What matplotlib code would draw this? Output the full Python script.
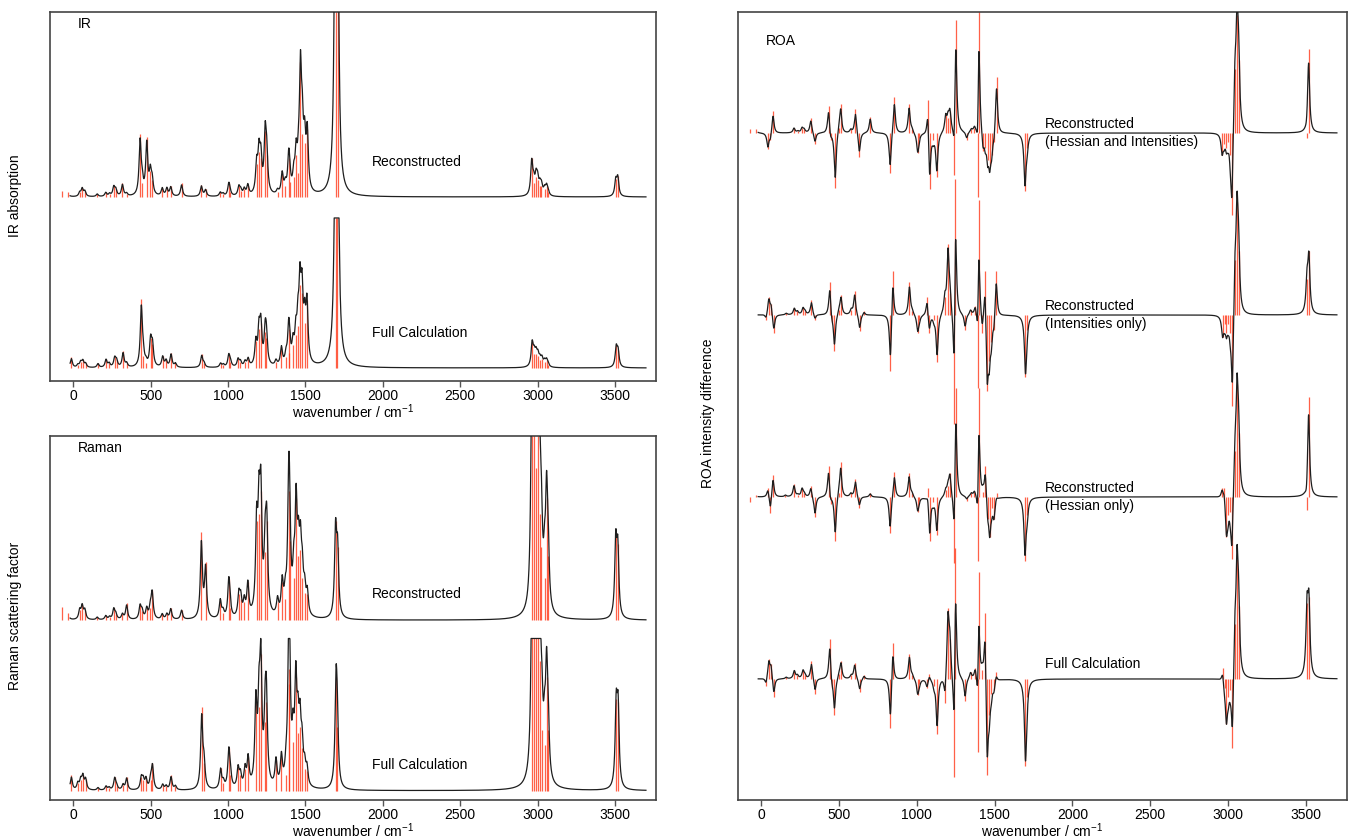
import matplotlib
matplotlib.use('Agg')
import matplotlib.pyplot as plt
import numpy as np

plt.rcParams['font.family'] = ['Liberation Sans', 'DejaVu Sans']
plt.rcParams['mathtext.fontset'] = 'custom'
plt.rcParams['mathtext.rm'] = 'Liberation Sans'
plt.rcParams['mathtext.it'] = 'Liberation Sans'

# --- normal-mode frequencies (cm^-1): full calculation vs reconstructed Hessian ---
freq_full = [-12, 30, 48, 62, 80, 160, 212, 232, 268, 280, 322, 345, 440, 452, 470, 500,
             512, 578, 600, 632, 660, 830, 845, 952, 970, 1005, 1015, 1065, 1080, 1110,
             1130, 1180, 1200, 1212, 1240, 1248, 1310, 1345, 1375, 1392, 1397, 1420, 1438,
             1452, 1465, 1478, 1495, 1510, 1698, 1706, 2965, 2978, 2990, 3002, 3015, 3028,
             3045, 3058, 3068, 3508, 3520]
freq_recon = [-75, -35, 42, 58, 75, 155, 210, 235, 262, 275, 318, 345, 432, 445, 475, 498,
              510, 575, 605, 630, 700, 828, 855, 950, 968, 1005, 1012, 1070, 1082, 1105,
              1128, 1185, 1200, 1212, 1240, 1250, 1320, 1350, 1370, 1392, 1398, 1425, 1440,
              1455, 1468, 1480, 1495, 1512, 1695, 1708, 2962, 2975, 2990, 3000, 3015, 3025,
              3045, 3058, 3068, 3505, 3518]

# --- IR intensities ---
ir_full = [0.07, 0.02, 0.04, 0.05, 0.03, 0.03, 0.06, 0.03, 0.07, 0.05, 0.11, 0.03, 0.46, 0.08,
           0.03, 0.2, 0.16, 0.08, 0.05, 0.1, 0.03, 0.09, 0.03, 0.03, 0.02, 0.09, 0.04, 0.06,
           0.04, 0.04, 0.06, 0.18, 0.26, 0.3, 0.24, 0.2, 0.04, 0.14, 0.07, 0.26, 0.1, 0.15,
           0.22, 0.28, 0.55, 0.5, 0.3, 0.45, 3.0, 2.2, 0.18, 0.09, 0.09, 0.08, 0.05, 0.06,
           0.04, 0.05, 0.02, 0.15, 0.12]
ir_recon = [0.04, 0.03, 0.03, 0.06, 0.04, 0.02, 0.03, 0.02, 0.07, 0.05, 0.09, 0.02, 0.42, 0.09,
            0.4, 0.17, 0.11, 0.06, 0.06, 0.07, 0.09, 0.08, 0.05, 0.03, 0.02, 0.09, 0.03, 0.07,
            0.04, 0.05, 0.08, 0.22, 0.3, 0.26, 0.44, 0.28, 0.03, 0.16, 0.07, 0.26, 0.1, 0.13,
            0.28, 0.16, 0.9, 0.42, 0.36, 0.45, 3.2, 2.2, 0.26, 0.09, 0.13, 0.11, 0.07, 0.07,
            0.05, 0.07, 0.03, 0.12, 0.14]

# --- Raman scattering factors ---
raman_full = [0.1, 0.05, 0.07, 0.1, 0.08, 0.02, 0.03, 0.02, 0.09, 0.03, 0.04, 0.09, 0.09, 0.07,
              0.08, 0.07, 0.18, 0.04, 0.03, 0.1, 0.03, 0.55, 0.18, 0.15, 0.05, 0.28, 0.1, 0.15,
              0.1, 0.14, 0.22, 0.62, 0.55, 0.9, 0.45, 0.58, 0.2, 0.22, 0.1, 0.7, 0.8, 0.32,
              0.75, 0.38, 0.42, 0.28, 0.14, 0.13, 0.75, 0.42, 1.5, 1.4, 1.2, 1.5, 0.85, 0.4,
              0.3, 0.75, 0.4, 0.6, 0.58]
raman_recon = [0.09, 0.05, 0.07, 0.1, 0.07, 0.02, 0.03, 0.02, 0.08, 0.04, 0.04, 0.11, 0.1, 0.06,
               0.08, 0.08, 0.2, 0.04, 0.04, 0.08, 0.07, 0.58, 0.38, 0.14, 0.05, 0.27, 0.08, 0.17,
               0.14, 0.12, 0.25, 0.65, 0.7, 0.85, 0.45, 0.65, 0.12, 0.25, 0.14, 0.85, 0.52, 0.28,
               0.8, 0.42, 0.46, 0.28, 0.18, 0.17, 0.65, 0.48, 1.3, 1.5, 1.0, 1.6, 0.7, 0.48,
               0.28, 0.8, 0.42, 0.56, 0.5]

# --- ROA intensity differences ---
roa_both = [0.02, 0.02, -0.09, -0.04, 0.12, 0.0, 0.03, 0.01, 0.03, 0.02, 0.08, -0.06, 0.15, -0.04,
            -0.3, 0.03, 0.16, 0.02, 0.13, -0.13, 0.09, -0.22, 0.2, 0.16, 0.02, -0.11, -0.03, 0.18,
            -0.31, -0.04, -0.24, 0.1, 0.08, 0.12, -0.23, 0.62, -0.04, 0.02, 0.03, -0.35, 0.75,
            -0.1, -0.08, -0.15, -0.18, -0.12, -0.05, 0.31, -0.32, -0.08, -0.12, -0.06, -0.08,
            -0.05, -0.12, -0.45, 0.35, 0.65, 0.4, -0.03, 0.46]
roa_intens = [0.0, -0.03, 0.1, 0.06, -0.1, 0.01, 0.04, 0.02, 0.04, 0.02, 0.08, -0.03, 0.18, -0.04,
              -0.2, 0.03, 0.11, 0.03, 0.13, -0.09, 0.02, -0.31, 0.24, 0.18, 0.02, -0.1, -0.03, 0.1,
              -0.1, -0.03, -0.26, 0.1, 0.39, 0.12, -0.6, 0.75, -0.08, 0.03, 0.05, -0.4, 0.63, -0.1,
              0.24, -0.42, -0.25, -0.15, -0.08, 0.24, -0.34, -0.08, -0.12, -0.05, -0.1, -0.05,
              -0.1, -0.5, 0.3, 0.62, 0.35, 0.2, 0.35]
roa_hessian = [-0.03, 0.01, 0.05, -0.09, 0.12, 0.01, 0.07, 0.01, 0.05, 0.02, 0.06, -0.11, 0.17,
               -0.04, -0.24, 0.02, 0.19, 0.02, 0.1, -0.06, 0.02, -0.2, 0.14, 0.13, 0.02, -0.08,
               -0.02, 0.05, -0.24, -0.03, -0.21, 0.04, 0.06, 0.13, -0.36, 0.6, -0.02, 0.02, 0.03,
               -0.35, 0.6, 0.03, 0.17, -0.12, -0.22, -0.06, -0.12, 0.02, -0.35, -0.1, 0.05, 0.05,
               -0.22, -0.1, -0.08, -0.34, 0.25, 0.62, 0.35, -0.07, 0.55]
roa_full = [0.0, -0.04, 0.11, 0.08, -0.1, 0.01, 0.05, 0.02, 0.05, 0.02, 0.1, -0.08, 0.22, -0.05,
            -0.2, 0.03, 0.1, 0.02, 0.09, -0.07, 0.02, -0.27, 0.2, 0.14, 0.02, -0.09, -0.03, -0.05,
            0.03, -0.04, -0.3, -0.13, 0.39, 0.22, -0.54, 0.72, -0.12, 0.04, 0.06, -0.4, 0.59,
            0.05, 0.36, -0.53, -0.2, -0.08, -0.06, 0.04, -0.48, -0.1, 0.06, -0.05, -0.25, -0.1,
            -0.06, -0.38, 0.3, 0.66, 0.4, 0.42, 0.45]

grid = np.arange(-20, 3700.5, 1.0)
STICK = '#ff3a1a'
LINE = '#1e1e1e'


def broaden(freq, inten, hwhm=8.0, scale=0.85):
    d = grid[:, None] - np.asarray(freq, float)[None, :]
    lor = hwhm ** 2 / (d ** 2 + hwhm ** 2)
    return scale * (np.asarray(inten, float)[None, :] * lor).sum(axis=1)


def draw_spectrum(ax, freq, inten, offset, clip=None):
    inten = np.asarray(inten, float)
    curve = broaden(freq, inten)
    if clip is not None:
        curve = np.minimum(curve, clip)
        inten = np.minimum(inten, clip)
    ax.vlines(freq, offset, offset + inten, color=STICK, lw=0.9, alpha=0.8, zorder=2)
    ax.plot(grid, offset + curve, color=LINE, lw=0.9, zorder=3)


def style_axes(ax, ylim):
    ax.set_xlim(-150, 3765)
    ax.set_ylim(*ylim)
    ax.set_yticks([])
    ax.set_xticks(np.arange(0, 3501, 500))
    ax.tick_params(axis='x', direction='out', length=4, width=1, color='#555555',
                   labelsize=10, pad=2)
    for s in ax.spines.values():
        s.set_color('#444444')
        s.set_linewidth(1.2)
    ax.set_xlabel('wavenumber / cm$^{-1}$', fontsize=10, labelpad=-1)


W, H = 1349, 838
fig = plt.figure(figsize=(W / 100, H / 100), dpi=100)

# IR panel
ax_ir = fig.add_axes([50 / W, 1 - 381 / H, 606 / W, 368.5 / H])
draw_spectrum(ax_ir, freq_recon, ir_recon, 1.14)
draw_spectrum(ax_ir, freq_full, ir_full, 0.0, clip=1.0)
style_axes(ax_ir, (-0.087, 2.37))
ax_ir.text(0.046, 0.968, 'IR', transform=ax_ir.transAxes, fontsize=10, va='center')
ax_ir.text(1930, 1.37, 'Reconstructed', fontsize=10, va='center')
ax_ir.text(1930, 0.233, 'Full Calculation', fontsize=10, va='center')

# Raman panel
ax_ra = fig.add_axes([50 / W, 1 - 800 / H, 606 / W, 364 / H])
draw_spectrum(ax_ra, freq_recon, raman_recon, 1.12)
draw_spectrum(ax_ra, freq_full, raman_full, 0.0, clip=1.0)
style_axes(ax_ra, (-0.061, 2.33))
ax_ra.text(0.046, 0.967, 'Raman', transform=ax_ra.transAxes, fontsize=10, va='center')
ax_ra.text(1930, 1.29, 'Reconstructed', fontsize=10, va='center')
ax_ra.text(1930, 0.169, 'Full Calculation', fontsize=10, va='center')

# ROA panel
ax_roa = fig.add_axes([738 / W, 1 - 800 / H, 609 / W, 788 / H])
draw_spectrum(ax_roa, freq_recon, roa_both, 3.0)
draw_spectrum(ax_roa, freq_full, roa_intens, 2.0)
draw_spectrum(ax_roa, freq_recon, roa_hessian, 1.0)
draw_spectrum(ax_roa, freq_full, roa_full, 0.0)
style_axes(ax_roa, (-0.665, 3.665))
ax_roa.text(0.046, 0.963, 'ROA', transform=ax_roa.transAxes, fontsize=10, va='center')
ax_roa.text(1824, 3.0, 'Reconstructed\n(Hessian and Intensities)', fontsize=10, va='center',
            linespacing=1.3)
ax_roa.text(1824, 2.0, 'Reconstructed\n(Intensities only)', fontsize=10, va='center',
            linespacing=1.3)
ax_roa.text(1824, 1.0, 'Reconstructed\n(Hessian only)', fontsize=10, va='center',
            linespacing=1.3)
ax_roa.text(1824, 0.08, 'Full Calculation', fontsize=10, va='center')

fig.text(15 / W, 1 - 196 / H, 'IR absorption', rotation=90, fontsize=10, ha='center', va='center')
fig.text(15 / W, 1 - 616 / H, 'Raman scattering factor', rotation=90, fontsize=10,
         ha='center', va='center')
fig.text(708 / W, 1 - 413 / H, 'ROA intensity difference', rotation=90, fontsize=10,
         ha='center', va='center')

fig.savefig('out.png', dpi=100)
